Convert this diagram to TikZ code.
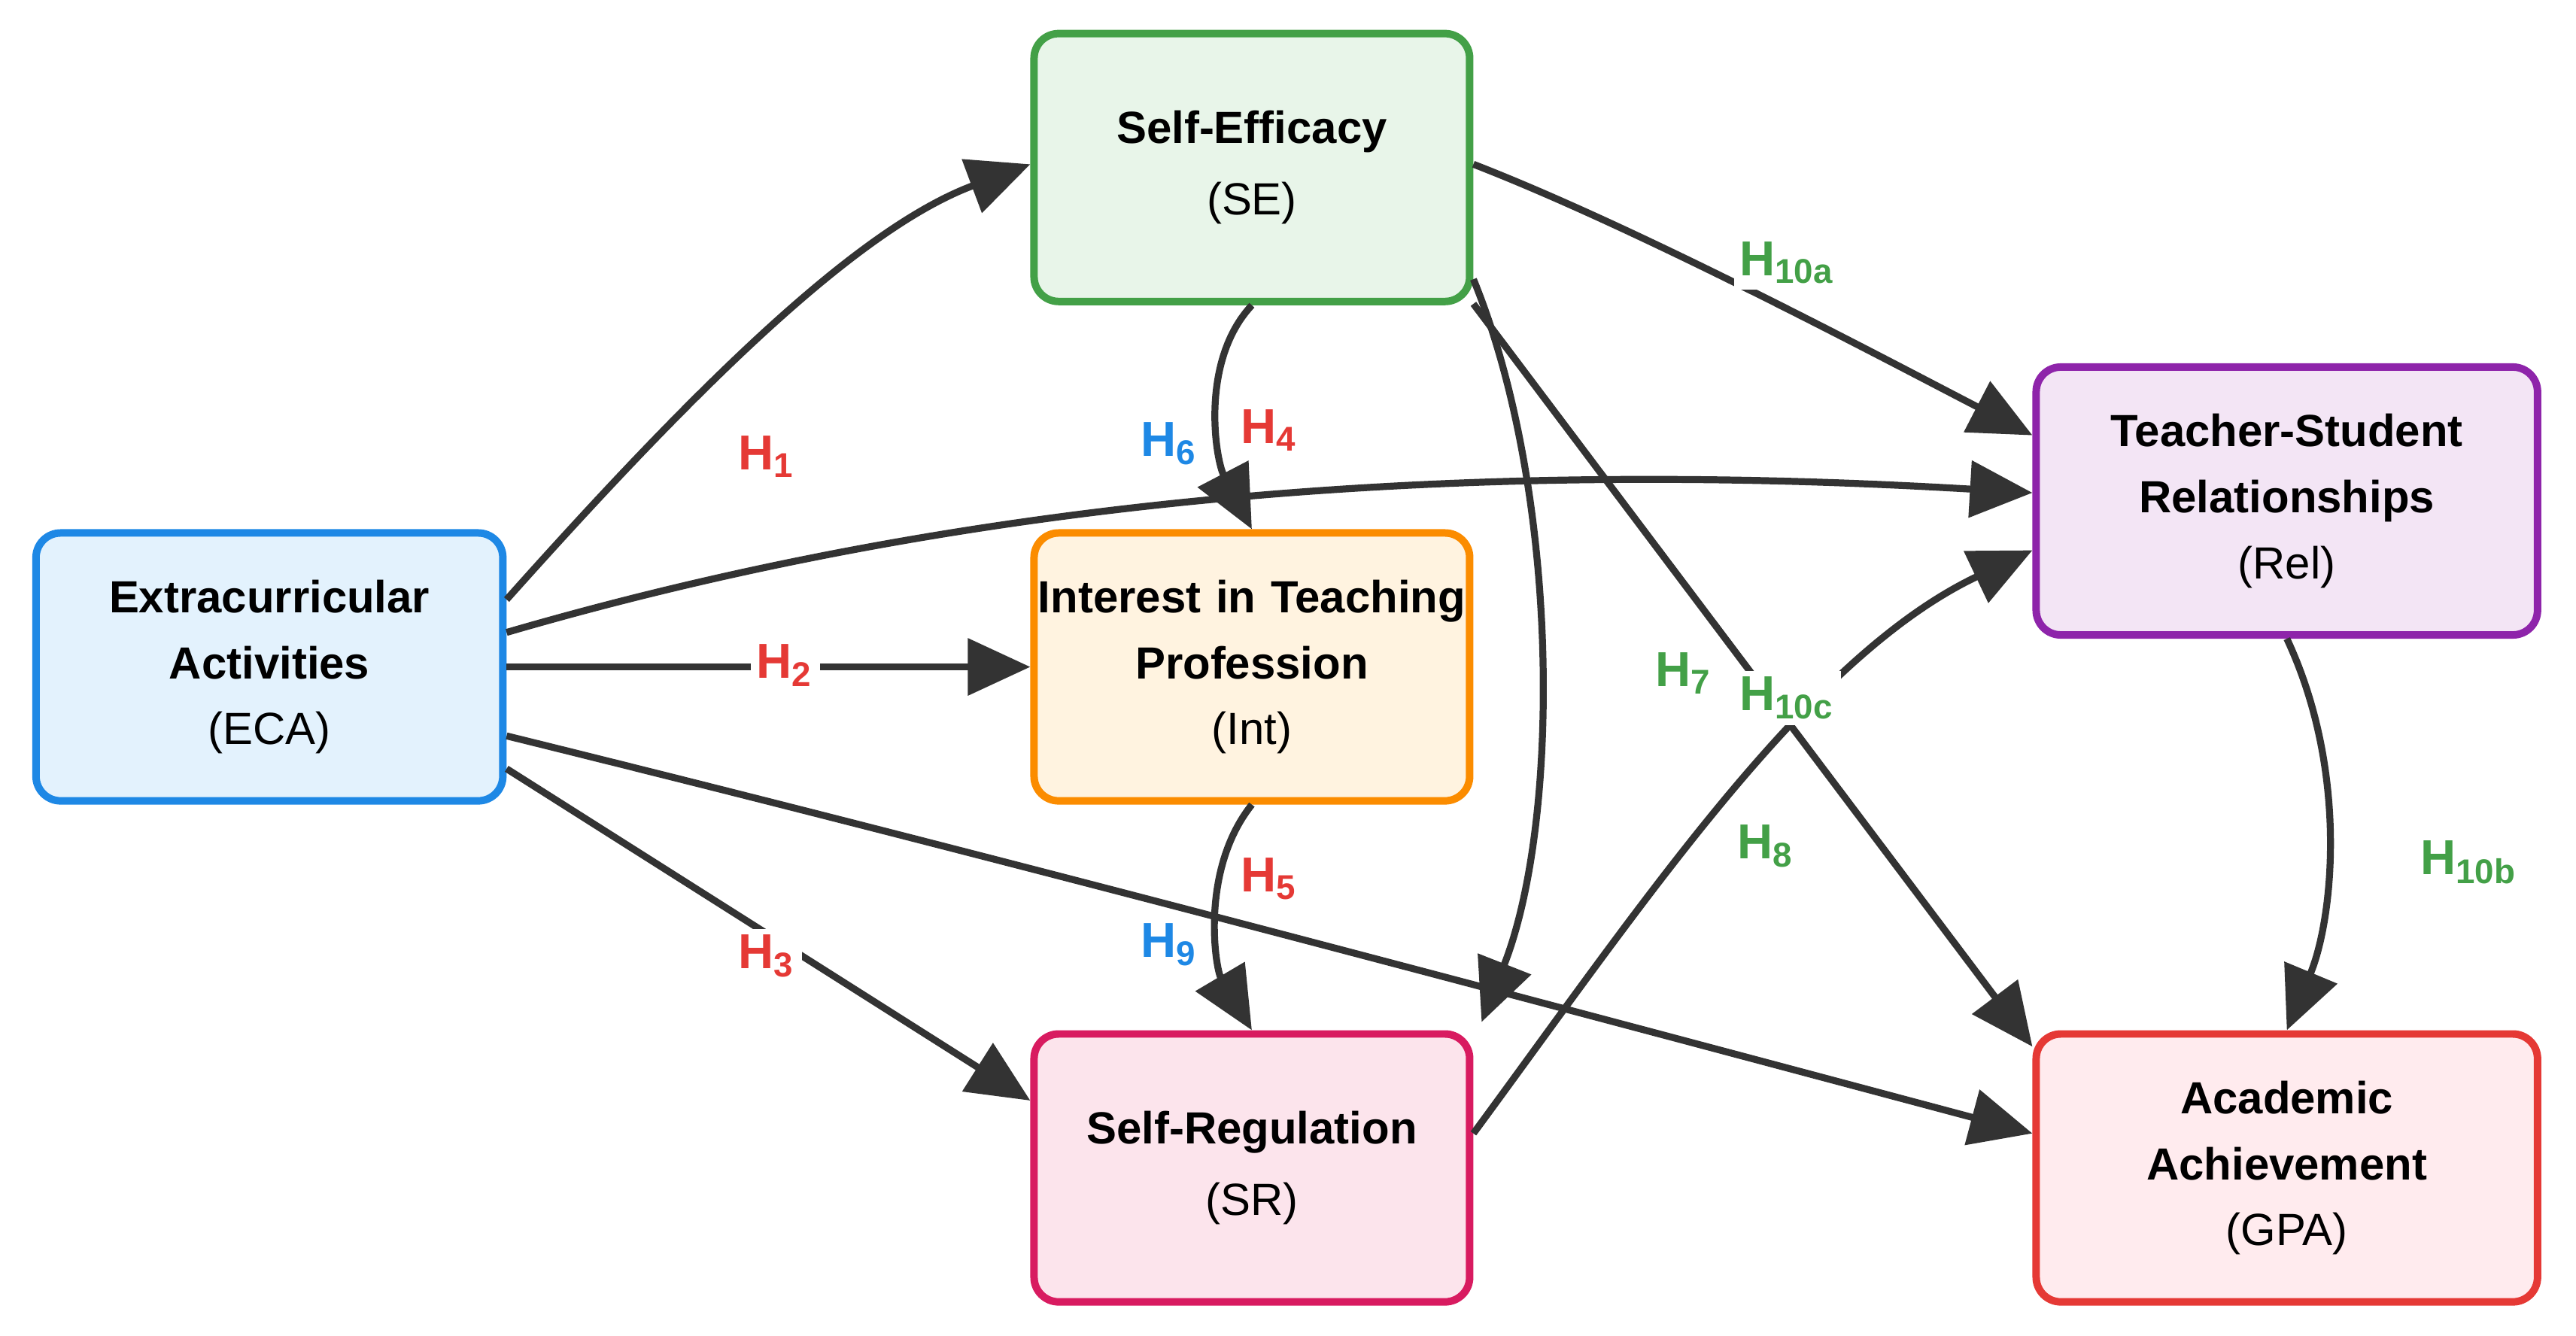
\documentclass[tikz,border=0pt]{standalone}
\usepackage{fontspec}
\setmainfont{Liberation Sans}
\usetikzlibrary{arrows.meta,calc}
\definecolor{ecaF}{HTML}{E3F2FD}\definecolor{ecaD}{HTML}{1E88E5}
\definecolor{seF}{HTML}{E8F5E9}\definecolor{seD}{HTML}{43A047}
\definecolor{intF}{HTML}{FFF3E0}\definecolor{intD}{HTML}{FB8C00}
\definecolor{srF}{HTML}{FCE4EC}\definecolor{srD}{HTML}{D81B60}
\definecolor{relF}{HTML}{F3E5F5}\definecolor{relD}{HTML}{8E24AA}
\definecolor{gpaF}{HTML}{FFEBEE}\definecolor{gpaD}{HTML}{E53935}
\definecolor{edge}{HTML}{333333}
\definecolor{lr}{HTML}{E53935}\definecolor{lg}{HTML}{43A047}\definecolor{lb}{HTML}{1E88E5}
\begin{document}
\begin{tikzpicture}[x=0.01cm,y=-0.01cm,
 box/.style={draw,line width=1.3pt,rounded corners=0.15cm,minimum width=2.65cm,minimum height=1.63cm,text width=2.62cm,align=center,inner sep=0pt,font=\fontsize{7.8}{11.4}\selectfont},
 arr/.style={draw=edge,line width=1.2pt,-{Triangle[length=0.38cm,width=0.34cm]}},
 lab/.style={fill=white,inner sep=1pt,font=\fontsize{8.5}{10}\selectfont\bfseries}]
\useasboundingbox (0,0) rectangle (1568,813);
\node[box,fill=ecaF,draw=ecaD,minimum width=2.84cm] (eca) at (164,406) {\textbf{Extracurricular}\\\textbf{Activities}\\(ECA)};
\node[box,fill=seF,draw=seD] (se) at (762,102) {\textbf{Self-Efficacy}\\[1pt](SE)};
\node[box,fill=intF,draw=intD] (int) at (762,406) {\textbf{Interest in Teaching}\\\textbf{Profession}\\(Int)};
\node[box,fill=srF,draw=srD] (sr) at (762,711) {\textbf{Self-Regulation}\\[1pt](SR)};
\node[box,fill=relF,draw=relD,minimum width=3.05cm] (rel) at (1392,305) {\textbf{Teacher-Student}\\\textbf{Relationships}\\(Rel)};
\node[box,fill=gpaF,draw=gpaD,minimum width=3.05cm] (gpa) at (1392,711) {\textbf{Academic}\\\textbf{Achievement}\\(GPA)};
% edges
\draw[arr] ($(eca.east)+(0,-41)$) .. controls (420,240) and (520,140) .. ($(se.west)+(0,-2)$);
\draw[arr] ($(eca.east)+(0,-21)$) .. controls (600,300) and (900,280) .. ($(rel.west)+(0,-5)$);
\draw[arr] (eca.east) -- (int.west);
\draw[arr] ($(eca.east)+(0,42)$) .. controls (600,520) and (900,600) .. ($(gpa.west)+(0,-21)$);
\draw[arr] ($(eca.east)+(0,62)$) -- ($(sr.west)+(0,-41)$);
\draw[arr] (se.south) .. controls (730,220) and (740,280) .. (int.north);
\draw[arr] (int.south) .. controls (730,530) and (740,590) .. (sr.north);
\draw[arr] ($(se.east)+(0,68)$) .. controls (950,300) and (950,500) .. ($(sr.north east)+(5,-5)$);
\draw[arr] ($(se.east)+(0,83)$) -- ($(gpa.north west)+(0,10)$);
\draw[arr] ($(se.east)+(0,-2)$) .. controls (1000,140) and (1150,220) .. ($(rel.west)+(0,-40)$);
\draw[arr] ($(sr.east)+(0,-21)$) .. controls (1000,550) and (1100,400) .. ($(rel.west)+(0,30)$);
\draw[arr] (rel.south) .. controls (1430,470) and (1420,560) .. (gpa.north);
% labels
\node[lab,text=lr] (l1) at (467,278) {H\textsubscript{1}};
\node[lab,text=lr] (l2) at (478,405) {H\textsubscript{2}};
\node[lab,text=lr] (l3) at (467,582) {H\textsubscript{3}};
\node[lab,text=lb] (l6) at (712,270) {H\textsubscript{6}};
\node[lab,text=lr] (l4) at (773,262) {H\textsubscript{4}};
\node[lab,text=lb] (l9) at (712,575) {H\textsubscript{9}};
\node[lab,text=lr] (l5) at (773,535) {H\textsubscript{5}};
\node[lab,text=lg] (l7) at (1025,410) {H\textsubscript{7}};
\node[lab,text=lg] (l10c) at (1088,425) {H\textsubscript{10c}};
\node[lab,text=lg] (l10a) at (1088,160) {H\textsubscript{10a}};
\node[lab,text=lg] (l8) at (1075,515) {H\textsubscript{8}};
\node[lab,text=lg] (l10b) at (1503,525) {H\textsubscript{10b}};
\end{tikzpicture}
\end{document}
